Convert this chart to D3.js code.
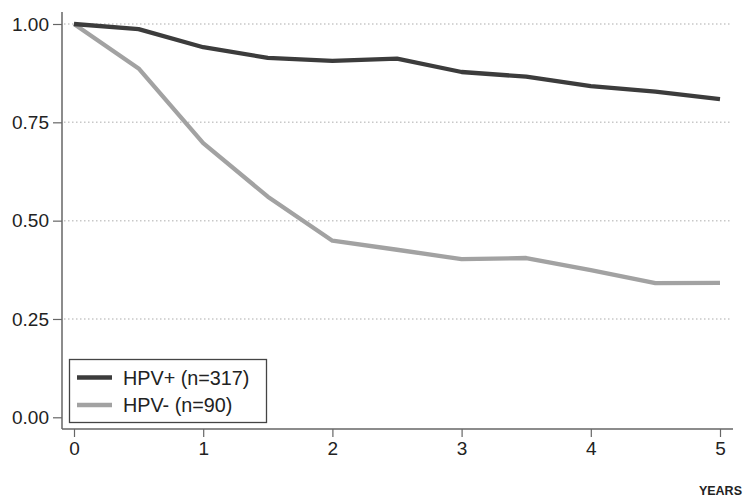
<!DOCTYPE html>
<html>
<head>
<meta charset="utf-8">
<script src="https://cdn.jsdelivr.net/npm/d3@7"></script>
<style>
  body { margin: 0; background: #fff; }
  text { font-family: "Liberation Sans", Arial, Helvetica, sans-serif; fill: #222; }
</style>
</head>
<body>
<svg id="chart"></svg>
<script>
// survival estimates, every half year
const years = [0, 0.5, 1, 1.5, 2, 2.5, 3, 3.5, 4, 4.5, 5];
const hpvPos = [1.00, 0.987, 0.941, 0.914, 0.906, 0.912, 0.878, 0.866, 0.842, 0.828, 0.809];
const hpvNeg = [1.00, 0.887, 0.697, 0.561, 0.449, 0.426, 0.402, 0.405, 0.374, 0.341, 0.342];
const seriesNames = ["HPV+ (n=317)", "HPV- (n=90)"];
const yTicks = [0, 0.25, 0.5, 0.75, 1];
const xTicks = [0, 1, 2, 3, 4, 5];

const width = 743;
const height = 497;

const svg = d3.select('svg#chart').attr('width', width).attr('height', height);

const xScale = d3.scaleLinear().domain([0, 5]).range([74, 720]);
const yScale = d3.scaleLinear().domain([0, 1]).range([417.3, 24]);

const axisX = 62;   // y axis line position
const axisY = 429;  // x axis line position

// dotted grid lines
svg.append('g').selectAll('line').data(yTicks.filter(d => d > 0))
  .enter().append('line')
  .attr('x1', axisX + 2)
  .attr('x2', 731)
  .attr('y1', d => yScale(d))
  .attr('y2', d => yScale(d))
  .attr('stroke', '#c8c8c8')
  .attr('stroke-width', 1.5)
  .attr('stroke-dasharray', '1.5,2.5');

// y axis
const yAxis = svg.append('g')
  .attr('transform', 'translate(' + axisX + ',0)')
  .call(d3.axisLeft(yScale).tickValues(yTicks).tickFormat(d3.format('.2f')).tickSize(9).tickPadding(4));
yAxis.select('.domain').attr('d', 'M0,12V' + axisY).attr('stroke', '#666').attr('stroke-width', 1.5);
yAxis.selectAll('.tick line').attr('stroke', '#666').attr('stroke-width', 1.2);
yAxis.selectAll('.tick text').attr('font-size', 19).attr('fill', '#222')
  .attr('font-family', '"Liberation Sans", Arial, sans-serif');

// x axis
const xAxis = svg.append('g')
  .attr('transform', 'translate(0,' + axisY + ')')
  .call(d3.axisBottom(xScale).tickValues(xTicks).tickFormat(d3.format('d')).tickSize(8).tickPadding(5));
xAxis.select('.domain').attr('d', 'M' + axisX + ',0H733').attr('stroke', '#666').attr('stroke-width', 1.5);
xAxis.selectAll('.tick line').attr('stroke', '#666').attr('stroke-width', 1.2);
xAxis.selectAll('.tick text').attr('font-size', 19).attr('fill', '#222')
  .attr('font-family', '"Liberation Sans", Arial, sans-serif');

// survival lines
const line = d3.line()
  .x(d => xScale(d[0]))
  .y(d => yScale(d[1]));

const series = [
  { name: seriesNames[0], values: years.map((y, i) => [y, hpvPos[i]]), color: '#3c3c3c' },
  { name: seriesNames[1], values: years.map((y, i) => [y, hpvNeg[i]]), color: '#a2a2a2' }
];

svg.append('g').selectAll('path').data(series.slice().reverse())
  .enter().append('path')
  .attr('d', d => line(d.values))
  .attr('fill', 'none')
  .attr('stroke', d => d.color)
  .attr('stroke-width', 4.3)
  .attr('stroke-linejoin', 'round');

// legend
const legend = svg.append('g');
legend.append('rect')
  .attr('x', 69.5).attr('y', 359.5)
  .attr('width', 197).attr('height', 63)
  .attr('fill', '#fff')
  .attr('stroke', '#444')
  .attr('stroke-width', 1.3);

const items = legend.selectAll('g.item').data(series)
  .enter().append('g')
  .attr('class', 'item')
  .attr('transform', (d, i) => 'translate(0,' + (377.5 + i * 27.5) + ')');
items.append('line')
  .attr('x1', 77).attr('x2', 112)
  .attr('stroke', d => d.color)
  .attr('stroke-width', 4.3);
items.append('text')
  .attr('x', 123)
  .attr('dy', '0.36em')
  .attr('font-size', 19.8)
  .text(d => d.name);

// axis title
svg.append('text')
  .attr('x', 742)
  .attr('y', 495)
  .attr('text-anchor', 'end')
  .attr('font-size', 12.5)
  .attr('font-weight', 'bold')
  .text('YEARS');
</script>
</body>
</html>
